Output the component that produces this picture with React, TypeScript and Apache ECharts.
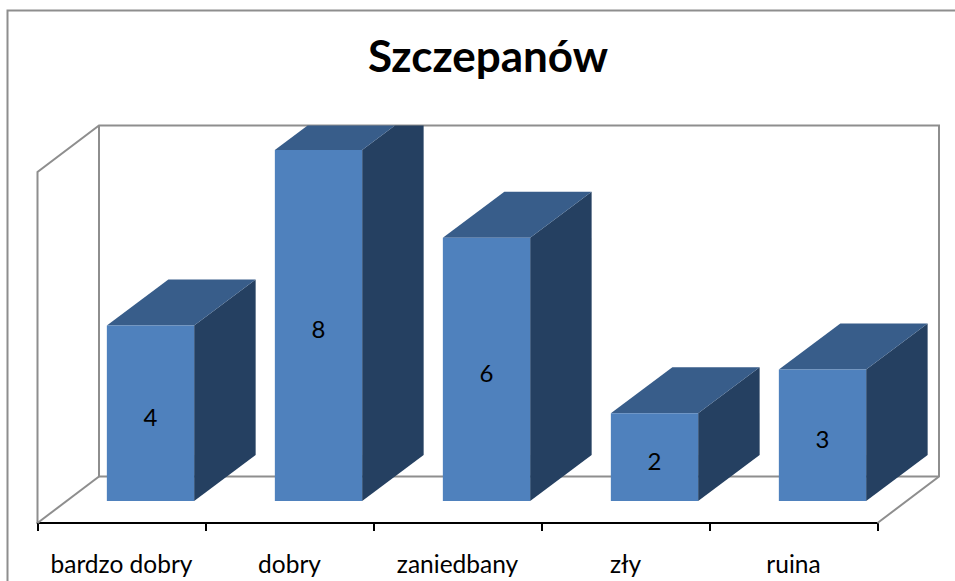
import React, { useEffect, useRef } from "react";
import * as echarts from "echarts";

const titleText = "Szczepanów";
const categories = ["bardzo dobry", "dobry", "zaniedbany", "zły", "ruina"];
const values = [4, 8, 6, 2, 3];

const FONT = "Lato, 'Open Sans', sans-serif";
const WALL = "#8e8e8e";
const FRONT = "#4f81bd";
const TOP = "#385d8a";
const SIDE = "#254061";

// oblique projection of the 3D box
const WALL_DX = 61.5;
const WALL_DY = 46.5;
const BAR_SHIFT_X = 29;
const BAR_SHIFT_Y = 22;
const BAR_DX = 61.5;
const BAR_DY = 46;
const BAR_WIDTH_RATIO = 87.3 / 168;

// keep the part of a polygon that lies below the line y = limit
function clipTop(points: number[][], limit: number): number[][] {
  const out: number[][] = [];
  for (let i = 0; i < points.length; i++) {
    const a = points[i];
    const b = points[(i + 1) % points.length];
    const aIn = a[1] >= limit;
    const bIn = b[1] >= limit;
    if (aIn) out.push(a);
    if (aIn !== bIn) {
      const t = (limit - a[1]) / (b[1] - a[1]);
      out.push([a[0] + (b[0] - a[0]) * t, limit]);
    }
  }
  return out;
}

function renderWalls(params: any) {
  const r = params.coordSys;
  const l = r.x;
  const t = r.y;
  const b = r.y + r.height;
  const rr = r.x + r.width;
  const style = { fill: "none", stroke: WALL, lineWidth: 2 };
  const poly = (points: number[][]) => ({ type: "polyline", shape: { points }, style });
  return {
    type: "group",
    children: [
      poly([
        [l, b],
        [l, t],
        [l + WALL_DX, t - WALL_DY],
        [rr + WALL_DX, t - WALL_DY],
        [rr + WALL_DX, b - WALL_DY],
        [rr, b],
      ]),
      poly([
        [l + WALL_DX, t - WALL_DY],
        [l + WALL_DX, b - WALL_DY],
        [rr + WALL_DX, b - WALL_DY],
      ]),
      poly([
        [l, b],
        [l + WALL_DX, b - WALL_DY],
      ]),
    ],
  };
}

function renderBar(params: any, api: any) {
  const limit = params.coordSys.y - WALL_DY;
  const cat = api.value(0);
  const val = api.value(1);
  const base = api.coord([cat, 0]);
  const top = api.coord([cat, val]);
  const w = api.size([1, 0])[0] * BAR_WIDTH_RATIO;
  const x0 = base[0] + BAR_SHIFT_X - w / 2;
  const x1 = x0 + w;
  const yb = base[1] - BAR_SHIFT_Y;
  const yt = top[1] - BAR_SHIFT_Y;
  const poly = (points: number[][], fill: string) => ({
    type: "polygon",
    shape: { points: clipTop(points, limit) },
    style: { fill },
  });
  return {
    type: "group",
    children: [
      poly([[x1, yb], [x1, yt], [x1 + BAR_DX, yt - BAR_DY], [x1 + BAR_DX, yb - BAR_DY]], SIDE),
      poly([[x0, yt], [x1, yt], [x1 + BAR_DX, yt - BAR_DY], [x0 + BAR_DX, yt - BAR_DY]], TOP),
      poly([[x0, yb], [x1, yb], [x1, yt], [x0, yt]], FRONT),
      {
        type: "text",
        x: (x0 + x1) / 2,
        y: (yb + yt) / 2 + 3,
        style: {
          text: String(val),
          fill: "#000",
          font: `24px ${FONT}`,
          textAlign: "center",
          textVerticalAlign: "middle",
        },
      },
    ],
  };
}

export default function App() {
  const ref = useRef<HTMLDivElement>(null);
  useEffect(() => {
    const chart = echarts.init(ref.current!, undefined, { renderer: "svg" });
    chart.setOption({
      animation: false,
      backgroundColor: "#fff",
      title: {
        text: titleText,
        left: 483,
        top: 28,
        textAlign: "center",
        textStyle: { fontFamily: FONT, fontSize: 44, fontWeight: "bold", color: "#000" },
      },
      grid: { left: 37.5, top: 172, width: 840, height: 351, containLabel: false },
      xAxis: {
        type: "category",
        data: categories,
        boundaryGap: true,
        axisLine: { show: true, lineStyle: { color: "#000", width: 2 } },
        axisTick: { show: true, length: 8, alignWithLabel: false, lineStyle: { color: "#000", width: 2 } },
        axisLabel: { interval: 0, margin: 28, fontFamily: FONT, fontSize: 24.5, color: "#000" },
        splitLine: { show: false },
      },
      yAxis: { type: "value", min: 0, max: 8, show: false, splitLine: { show: false } },
      graphic: [
        {
          type: "polyline",
          shape: { points: [[7.5, 581], [7.5, 10.5], [955, 10.5]] },
          style: { fill: "none", stroke: WALL, lineWidth: 2 },
        },
      ],
      series: [
        {
          type: "custom",
          clip: false,
          silent: true,
          z: 1,
          data: [[0, 0]],
          encode: { x: 0, y: 1 },
          renderItem: renderWalls,
        },
        {
          type: "custom",
          clip: false,
          silent: true,
          z: 2,
          data: values.map((v, i) => [i, v]),
          encode: { x: 0, y: 1 },
          renderItem: renderBar,
        },
      ],
    });
    return () => chart.dispose();
  }, []);
  return <div ref={ref} style={{ position: "absolute", left: 0, top: 0, width: 955, height: 581 }} />;
}
